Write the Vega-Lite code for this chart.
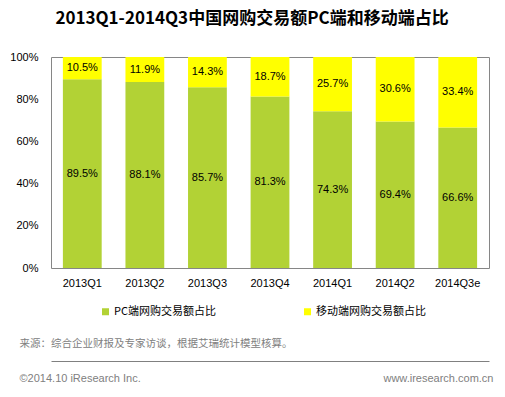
{
  "$schema": "https://vega.github.io/schema/vega-lite/v6.json",
  "width": 438,
  "height": 211,
  "autosize": {"type": "none"},
  "padding": {"left": 51, "top": 57, "right": 16, "bottom": 129},
  "background": "white",
  "config": {
    "view": {"stroke": "#868686", "strokeWidth": 1},
    "text": {"font": "Liberation Sans"}
  },
  "title": {
    "text": "2013Q1-2014Q3中国网购交易额PC端和移动端占比",
    "font": "Noto Sans CJK SC",
    "fontSize": 17,
    "fontWeight": "bold",
    "color": "#000000",
    "anchor": "middle",
    "frame": "group",
    "dx": -18,
    "offset": 23
  },
  "data": {
    "values": [
      {"quarter": "2013Q1", "type": "PC端网购交易额占比", "share": 0.895},
      {"quarter": "2013Q1", "type": "移动端网购交易额占比", "share": 0.105},
      {"quarter": "2013Q2", "type": "PC端网购交易额占比", "share": 0.881},
      {"quarter": "2013Q2", "type": "移动端网购交易额占比", "share": 0.119},
      {"quarter": "2013Q3", "type": "PC端网购交易额占比", "share": 0.857},
      {"quarter": "2013Q3", "type": "移动端网购交易额占比", "share": 0.143},
      {"quarter": "2013Q4", "type": "PC端网购交易额占比", "share": 0.813},
      {"quarter": "2013Q4", "type": "移动端网购交易额占比", "share": 0.187},
      {"quarter": "2014Q1", "type": "PC端网购交易额占比", "share": 0.743},
      {"quarter": "2014Q1", "type": "移动端网购交易额占比", "share": 0.257},
      {"quarter": "2014Q2", "type": "PC端网购交易额占比", "share": 0.694},
      {"quarter": "2014Q2", "type": "移动端网购交易额占比", "share": 0.306},
      {"quarter": "2014Q3e", "type": "PC端网购交易额占比", "share": 0.666},
      {"quarter": "2014Q3e", "type": "移动端网购交易额占比", "share": 0.334}
    ]
  },
  "layer": [
    {
      "mark": {"type": "bar"},
      "encoding": {
        "x": {
          "field": "quarter",
          "type": "nominal",
          "sort": null,
          "scale": {"paddingInner": 0.38, "paddingOuter": 0.19},
          "axis": {
            "labelAngle": 0,
            "labelFont": "Liberation Sans",
            "labelFontSize": 11,
            "labelColor": "#000000",
            "labelPadding": 9,
            "ticks": false,
            "domain": false,
            "title": "来源：综合企业财报及专家访谈，根据艾瑞统计模型核算。",
            "titleFont": "Noto Sans CJK SC",
            "titleFontSize": 10.5,
            "titleFontWeight": "normal",
            "titleColor": "#808080",
            "titleX": -32,
            "titleY": 75,
            "titleAlign": "left",
            "titleAnchor": "start",
            "titleBaseline": "middle"
          }
        },
        "y": {
          "field": "share",
          "type": "quantitative",
          "stack": "zero",
          "scale": {"domain": [0, 1], "nice": false},
          "axis": {
            "values": [0, 0.2, 0.4, 0.6, 0.8, 1],
            "format": ".0%",
            "labelFont": "Liberation Sans",
            "labelFontSize": 11,
            "labelColor": "#000000",
            "labelPadding": 13,
            "ticks": false,
            "domain": false,
            "grid": false,
            "title": "©2014.10 iResearch Inc.",
            "titleFont": "Liberation Sans",
            "titleFontSize": 11,
            "titleFontWeight": "normal",
            "titleColor": "#808080",
            "titleAngle": 0,
            "titleX": -32,
            "titleY": 321,
            "titleAlign": "left",
            "titleAnchor": "start",
            "titleBaseline": "middle"
          }
        },
        "order": {"field": "type", "type": "nominal", "sort": "ascending"},
        "color": {
          "field": "type",
          "type": "nominal",
          "scale": {
            "domain": ["PC端网购交易额占比", "移动端网购交易额占比"],
            "range": ["#b2d235", "#ffff00"]
          },
          "legend": {
            "orient": "none",
            "legendX": 49,
            "legendY": 249,
            "direction": "horizontal",
            "title": null,
            "symbolType": "square",
            "symbolSize": 49,
            "symbolStrokeWidth": 0,
            "labelFont": "Noto Sans CJK SC",
            "labelFontSize": 11,
            "labelColor": "#000000",
            "labelOffset": 3,
            "columnPadding": 86
          }
        }
      }
    },
    {
      "transform": [
        {"stack": "share", "groupby": ["quarter"], "sort": [{"field": "type", "order": "ascending"}], "as": ["s0", "s1"]},
        {"calculate": "(datum.s0 + datum.s1) / 2", "as": "mid"}
      ],
      "mark": {"type": "text", "font": "Liberation Sans", "fontSize": 11, "color": "#000000"},
      "encoding": {
        "x": {
          "field": "quarter",
          "type": "nominal",
          "sort": null,
          "axis": {
            "orient": "bottom",
            "offset": 93,
            "labels": false,
            "ticks": false,
            "domain": true,
            "domainColor": "#808080",
            "domainWidth": 1,
            "title": null
          }
        },
        "y": {
          "field": "mid",
          "type": "quantitative",
          "scale": {"domain": [0, 1], "nice": false},
          "axis": {
            "orient": "right",
            "labels": false,
            "ticks": false,
            "domain": false,
            "grid": false,
            "title": "www.iresearch.com.cn",
            "titleFont": "Liberation Sans",
            "titleFontSize": 11,
            "titleFontWeight": "normal",
            "titleColor": "#808080",
            "titleAngle": 0,
            "titleX": 4,
            "titleY": 321,
            "titleAlign": "right",
            "titleAnchor": "start",
            "titleBaseline": "middle"
          }
        },
        "text": {"field": "share", "type": "quantitative", "format": ".1%"}
      }
    }
  ],
  "resolve": {"scale": {"y": "independent"}, "axis": {"x": "independent", "y": "independent"}}
}
